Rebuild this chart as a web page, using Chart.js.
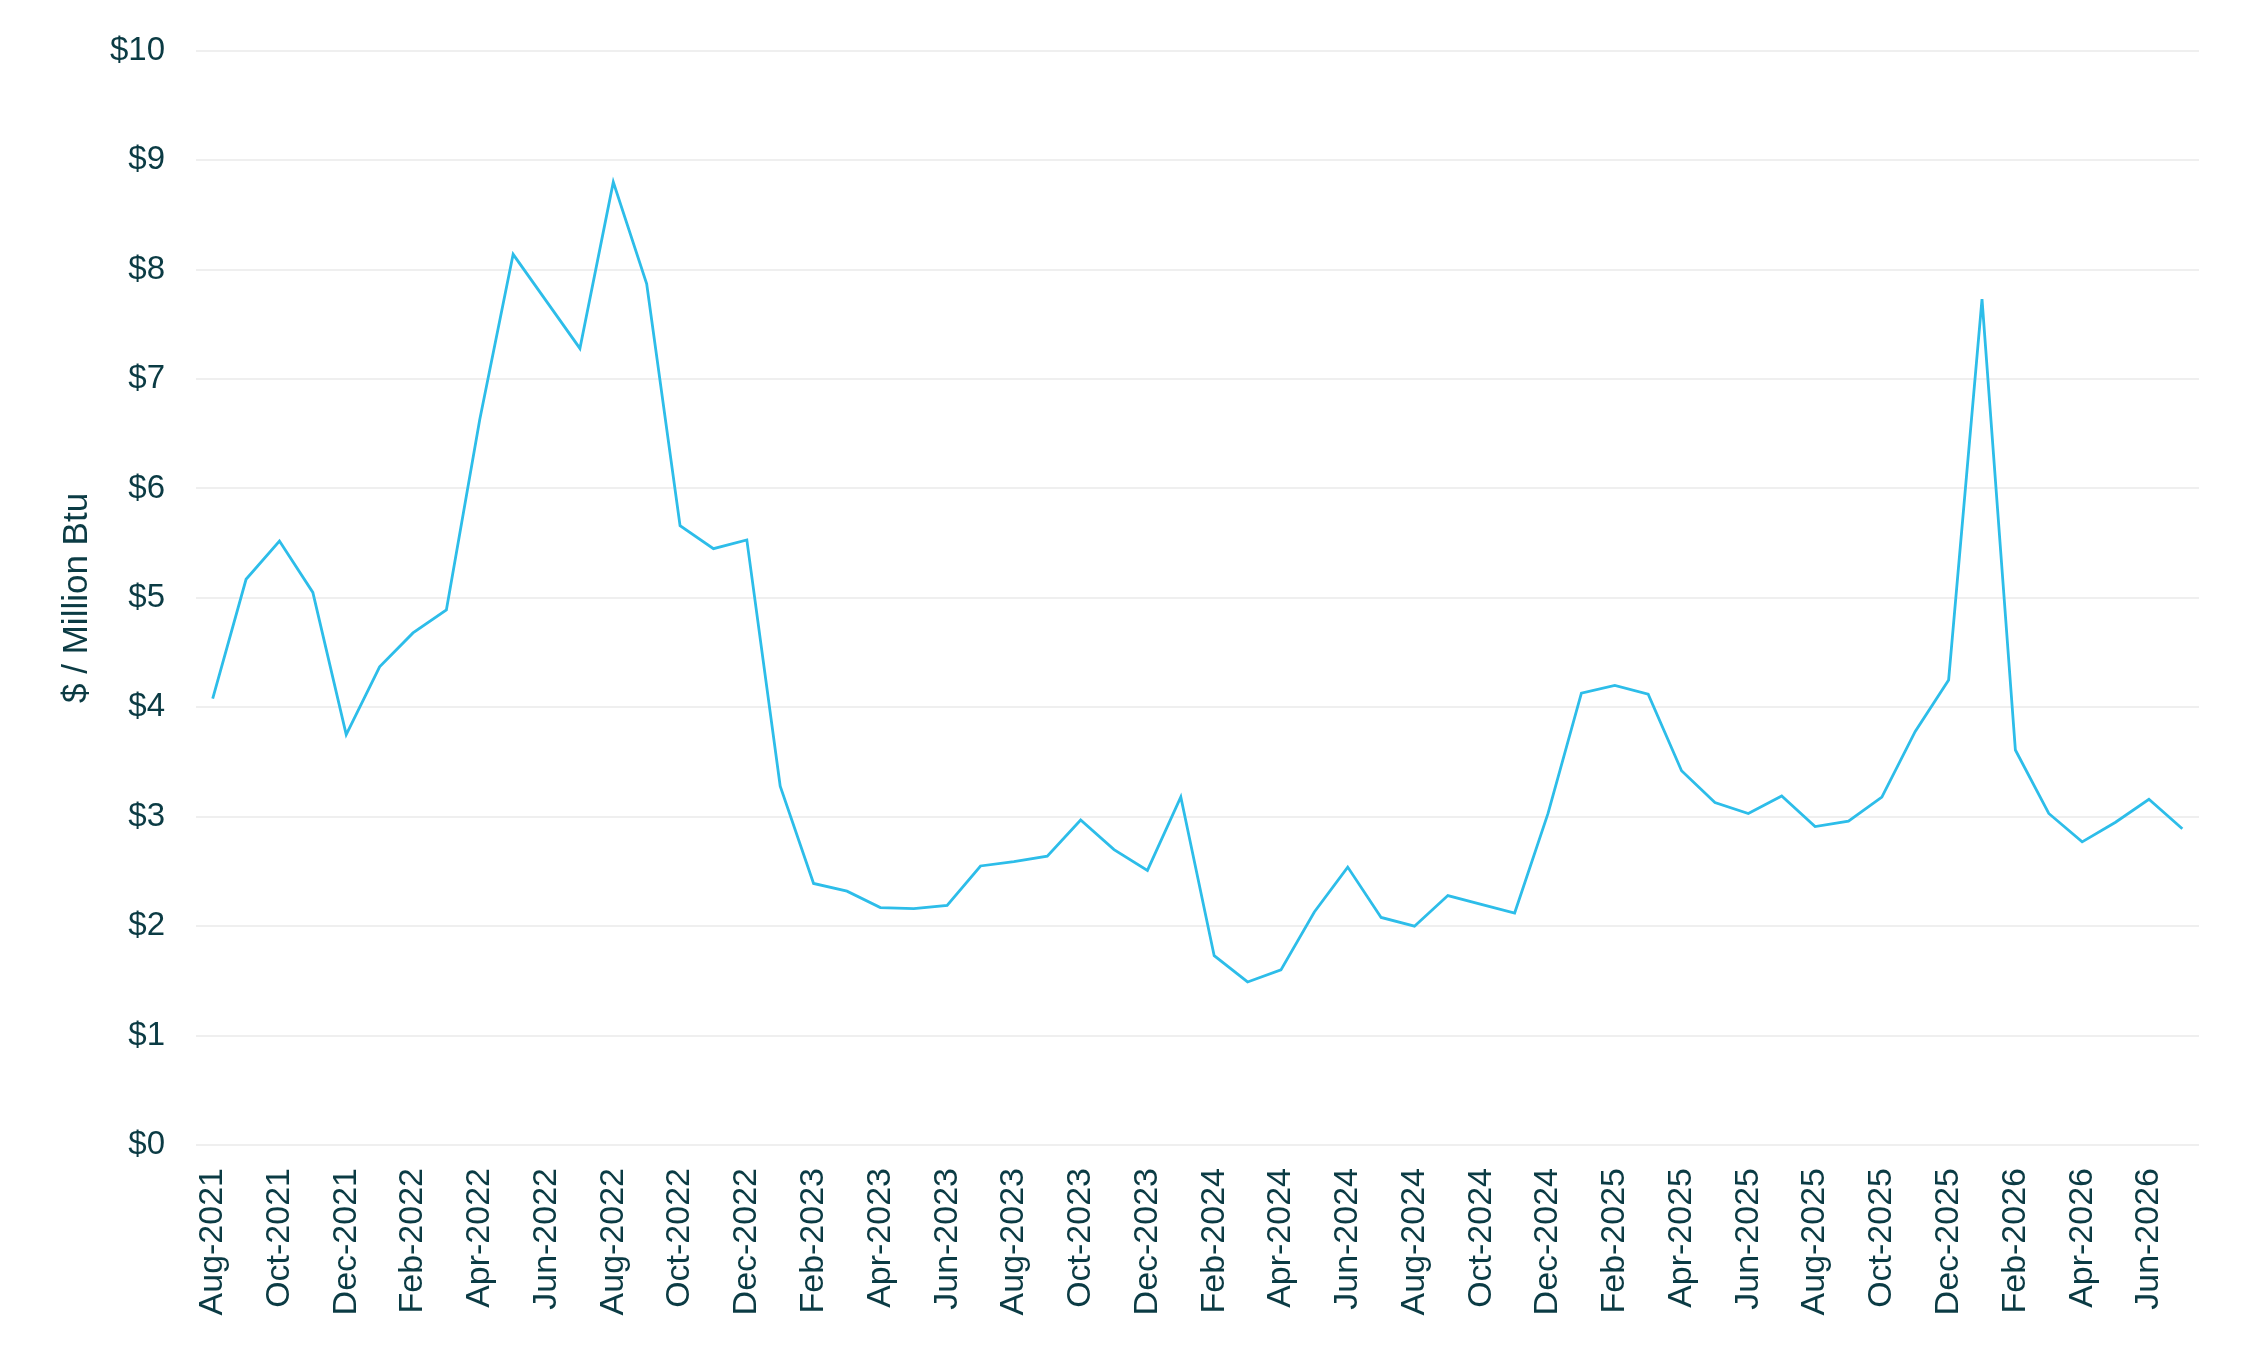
<!DOCTYPE html>
<html>
<head>
<meta charset="utf-8">
<script src="https://cdn.jsdelivr.net/npm/chart.js@4.4.1/dist/chart.umd.min.js"></script>
<style>
  html, body { margin: 0; padding: 0; background: #fff; }
  #wrap { width: 2249px; height: 1345px; }
</style>
</head>
<body>
<div id="wrap"><canvas id="chart"></canvas></div>
<script>
// monthly price, Aug-2021 .. Jul-2026
const months = [
  'Aug-2021','Sep-2021','Oct-2021','Nov-2021','Dec-2021',
  'Jan-2022','Feb-2022','Mar-2022','Apr-2022','May-2022','Jun-2022','Jul-2022','Aug-2022','Sep-2022','Oct-2022','Nov-2022','Dec-2022',
  'Jan-2023','Feb-2023','Mar-2023','Apr-2023','May-2023','Jun-2023','Jul-2023','Aug-2023','Sep-2023','Oct-2023','Nov-2023','Dec-2023',
  'Jan-2024','Feb-2024','Mar-2024','Apr-2024','May-2024','Jun-2024','Jul-2024','Aug-2024','Sep-2024','Oct-2024','Nov-2024','Dec-2024',
  'Jan-2025','Feb-2025','Mar-2025','Apr-2025','May-2025','Jun-2025','Jul-2025','Aug-2025','Sep-2025','Oct-2025','Nov-2025','Dec-2025',
  'Jan-2026','Feb-2026','Mar-2026','Apr-2026','May-2026','Jun-2026','Jul-2026'
];
const prices = [
  4.08, 5.17, 5.52, 5.05, 3.75,
  4.37, 4.68, 4.89, 6.63, 8.14, 7.71, 7.28, 8.80, 7.87, 5.66, 5.45, 5.53,
  3.28, 2.39, 2.32, 2.17, 2.16, 2.19, 2.55, 2.59, 2.64, 2.97, 2.70, 2.51,
  3.18, 1.73, 1.49, 1.60, 2.13, 2.54, 2.08, 2.00, 2.28, 2.20, 2.12, 3.03,
  4.13, 4.20, 4.12, 3.42, 3.13, 3.03, 3.19, 2.91, 2.96, 3.18, 3.78, 4.25,
  7.73, 3.61, 3.03, 2.77, 2.95, 3.16, 2.89
];
const yTicks = [0, 1, 2, 3, 4, 5, 6, 7, 8, 9, 10];

const textColor = '#0b3b44';
const family = "'Liberation Sans', Arial, sans-serif";

const ctx = document.getElementById('chart').getContext('2d');
new Chart(ctx, {
  type: 'line',
  data: {
    labels: months,
    datasets: [{
      label: 'Price',
      data: prices,
      borderColor: '#2dbde9',
      borderWidth: 2.8,
      pointRadius: 0,
      tension: 0,
      fill: false
    }]
  },
  options: {
    responsive: true,
    maintainAspectRatio: false,
    devicePixelRatio: 1,
    animation: false,
    layout: { padding: { top: 50, right: 50, bottom: 0, left: 0 } },
    plugins: { legend: { display: false }, tooltip: { enabled: false } },
    scales: {
      x: {
        offset: true,
        grid: { display: false },
        border: { display: false },
        afterFit: scale => { scale.height = 200; },
        ticks: {
          color: textColor,
          font: { family: family, size: 34 },
          autoSkip: false,
          minRotation: 90,
          maxRotation: 90,
          padding: 15,
          callback: (v, i) => (i % 2 === 0 ? months[i] : '')
        }
      },
      y: {
        min: yTicks[0],
        max: yTicks[yTicks.length - 1],
        afterFit: scale => { scale.width = 196; },
        afterBuildTicks: scale => { scale.ticks = yTicks.map(v => ({ value: v })); },
        grid: { color: '#efefef', lineWidth: 2, drawTicks: false },
        border: { display: false },
        ticks: {
          color: textColor,
          font: { family: family, size: 33 },
          padding: 31,
          callback: v => '$' + v
        },
        title: {
          display: true,
          text: '$ / Million Btu',
          color: textColor,
          font: { family: family, size: 35 },
          padding: { top: 56, bottom: 0 }
        }
      }
    }
  }
});
</script>
</body>
</html>
